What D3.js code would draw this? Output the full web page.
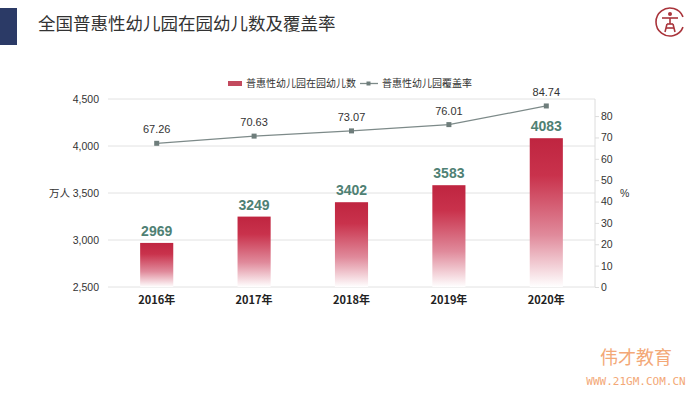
<!DOCTYPE html>
<html>
<head>
<meta charset="utf-8">
<script src="https://cdn.jsdelivr.net/npm/d3@7"></script>
<style>
  body { margin: 0; background: #fff; }
  svg { font-family: "Noto Sans CJK SC", "Noto Sans", sans-serif; }
</style>
</head>
<body>
<div id="chart"></div>
<script>
var years = ["2016年", "2017年", "2018年", "2019年", "2020年"];
var children = [2969, 3249, 3402, 3583, 4083];
var coverage = [67.26, 70.63, 73.07, 76.01, 84.74];
var leftTicks = [2500, 3000, 3500, 4000, 4500];
var rightTicks = [0, 10, 20, 30, 40, 50, 60, 70, 80];

var width = 700, height = 394;

var svg = d3.select("#chart")
    .append("svg")
    .attr("width", width)
    .attr("height", height);

var defs = svg.append("defs");
var grad = defs.append("linearGradient")
    .attr("id", "barGrad")
    .attr("x1", 0).attr("y1", 0).attr("x2", 0).attr("y2", 1);
grad.append("stop").attr("offset", "0%").attr("stop-color", "#bf2540");
grad.append("stop").attr("offset", "25%").attr("stop-color", "#c9324c");
grad.append("stop").attr("offset", "65%").attr("stop-color", "#e08a9b");
grad.append("stop").attr("offset", "100%").attr("stop-color", "#ffffff");

// header
svg.append("rect")
    .attr("x", 0).attr("y", 8)
    .attr("width", 17).attr("height", 37)
    .attr("fill", "#2b3a66");

svg.append("text")
    .attr("x", 38).attr("y", 30)
    .attr("font-size", 17.5)
    .attr("fill", "#333")
    .text("全国普惠性幼儿园在园幼儿数及覆盖率");

// logo
var logo = svg.append("g").attr("transform", "translate(670,22)")
    .attr("stroke", "#a9343b").attr("fill", "none").attr("stroke-width", 1.6);
logo.append("path")
    .attr("d", d3.arc()({innerRadius: 14, outerRadius: 14, startAngle: Math.PI * 0.62, endAngle: Math.PI * 2.38}));
logo.append("circle").attr("cx", 0).attr("cy", -8).attr("r", 2).attr("fill", "#a9343b").attr("stroke", "none");
logo.append("line").attr("x1", -8).attr("y1", -4).attr("x2", 8).attr("y2", -4);
logo.append("line").attr("x1", 0).attr("y1", -4).attr("x2", 0).attr("y2", 2);
logo.append("line").attr("x1", -3).attr("y1", 2).attr("x2", 3).attr("y2", 2);
logo.append("line").attr("x1", -3).attr("y1", 2).attr("x2", -5).attr("y2", 10);
logo.append("line").attr("x1", 3).attr("y1", 2).attr("x2", 5).attr("y2", 10);
logo.append("line").attr("x1", -4).attr("y1", 6).attr("x2", 4).attr("y2", 6);

// scales
var x = d3.scaleBand().domain(years).range([108, 595]).paddingInner(0.66).paddingOuter(0.33);
var yL = d3.scaleLinear().domain([2500, 4500]).range([287, 99]);
var yR = d3.scaleLinear().domain([0, 88]).range([287, 99]);

// gridlines
svg.append("g").selectAll("line")
    .data(leftTicks)
    .enter().append("line")
    .attr("x1", 108).attr("x2", 595)
    .attr("y1", d => yL(d)).attr("y2", d => yL(d))
    .attr("stroke", "#e2e2e2");

// left axis
var axL = svg.append("g")
    .attr("transform", "translate(102,0)")
    .call(d3.axisLeft(yL).tickValues(leftTicks).tickSize(0).tickFormat(d3.format(",")));
axL.select(".domain").remove();
axL.selectAll("text").attr("font-size", 10.5).attr("fill", "#333").attr("font-family", "Liberation Sans, Arial, sans-serif");

svg.append("text")
    .attr("x", 49).attr("y", yL(3500) + 4)
    .attr("font-size", 10.5).attr("fill", "#333")
    .text("万人");

// right axis
var axR = svg.append("g")
    .attr("transform", "translate(595,0)")
    .call(d3.axisRight(yR).tickValues(rightTicks).tickSize(4).tickPadding(2));
axR.select(".domain").attr("stroke", "#dcdcdc").attr("d", "M0," + yR(88) + "V" + yR(0));
axR.selectAll(".tick line").attr("stroke", "#dcdcdc");
axR.selectAll("text").attr("font-size", 10.5).attr("fill", "#333").attr("font-family", "Liberation Sans, Arial, sans-serif");

svg.append("text")
    .attr("x", 620).attr("y", yR(44) + 4)
    .attr("font-size", 10.5).attr("fill", "#333")
    .attr("font-family", "Liberation Sans, Arial, sans-serif")
    .text("%");

// bars
svg.append("g").selectAll("rect")
    .data(children)
    .enter().append("rect")
    .attr("x", (d, i) => x(years[i]))
    .attr("y", d => yL(d))
    .attr("width", x.bandwidth())
    .attr("height", d => yL(2500) - yL(d))
    .attr("fill", "url(#barGrad)");

svg.append("g").selectAll("text")
    .data(children)
    .enter().append("text")
    .attr("x", (d, i) => x(years[i]) + x.bandwidth() / 2)
    .attr("y", d => yL(d) - 7)
    .attr("text-anchor", "middle")
    .attr("font-size", 14)
    .attr("font-weight", "bold")
    .attr("fill", "#4f8174")
    .attr("font-family", "Liberation Sans, Arial, sans-serif")
    .text(d => d);

// x labels
svg.append("g").selectAll("text")
    .data(years)
    .enter().append("text")
    .attr("x", d => x(d) + x.bandwidth() / 2)
    .attr("y", 304)
    .attr("text-anchor", "middle")
    .attr("font-size", 11)
    .attr("font-weight", "bold")
    .attr("fill", "#222")
    .text(d => d);

// line
var line = d3.line()
    .x((d, i) => x(years[i]) + x.bandwidth() / 2)
    .y(d => yR(d));

svg.append("path")
    .datum(coverage)
    .attr("d", line)
    .attr("fill", "none")
    .attr("stroke", "#7d8a89")
    .attr("stroke-width", 1.3);

svg.append("g").selectAll("rect")
    .data(coverage)
    .enter().append("rect")
    .attr("x", (d, i) => x(years[i]) + x.bandwidth() / 2 - 2.5)
    .attr("y", d => yR(d) - 2.5)
    .attr("width", 5).attr("height", 5)
    .attr("fill", "#6e7d7b");

svg.append("g").selectAll("text")
    .data(coverage)
    .enter().append("text")
    .attr("x", (d, i) => x(years[i]) + x.bandwidth() / 2)
    .attr("y", d => yR(d) - 10)
    .attr("text-anchor", "middle")
    .attr("font-size", 11)
    .attr("fill", "#333")
    .attr("font-family", "Liberation Sans, Arial, sans-serif")
    .text(d => d.toFixed(2));

// legend
var legend = svg.append("g").attr("font-size", 10).attr("fill", "#333");
legend.append("rect")
    .attr("x", 228).attr("y", 81).attr("width", 14).attr("height", 5)
    .attr("fill", "#c34a5e");
legend.append("text").attr("x", 246).attr("y", 87).text("普惠性幼儿园在园幼儿数");
legend.append("line")
    .attr("x1", 360).attr("x2", 378).attr("y1", 83.5).attr("y2", 83.5)
    .attr("stroke", "#7d8a89").attr("stroke-width", 1.3);
legend.append("rect")
    .attr("x", 366.5).attr("y", 81.5).attr("width", 4).attr("height", 4)
    .attr("fill", "#6e7d7b");
legend.append("text").attr("x", 382).attr("y", 87).text("普惠性幼儿园覆盖率");

// watermark
svg.append("text")
    .attr("x", 636).attr("y", 364)
    .attr("text-anchor", "middle")
    .attr("font-size", 18)
    .attr("fill", "#f3a877")
    .text("伟才教育");
svg.append("text")
    .attr("x", 636).attr("y", 385)
    .attr("text-anchor", "middle")
    .attr("font-size", 11)
    .attr("fill", "#f3a877")
    .attr("font-family", "DejaVu Sans Mono, monospace")
    .text("WWW.21GM.COM.CN");
</script>
</body>
</html>
